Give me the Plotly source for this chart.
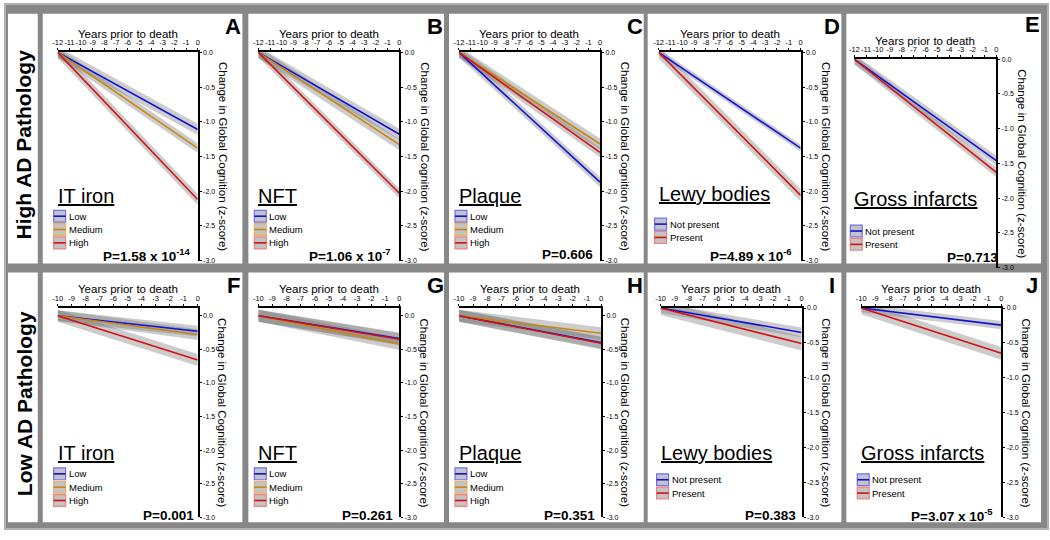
import plotly.graph_objects as go

W, H = 1050, 540

# ---------------- data ----------------
measures = ["IT iron", "NFT", "Plaque", "Lewy bodies", "Gross infarcts"]
groups3 = ["Low", "Medium", "High"]
groups2 = ["Not present", "Present"]
letters_high = ["A", "B", "C", "D", "E"]
letters_low = ["F", "G", "H", "I", "J"]
row_labels = ["High AD Pathology", "Low AD Pathology"]

high_start_year = -12
low_start_year = -10

# change in global cognition (z-score) at death (year 0), per group
high_end_change = [[-1.11, -1.38, -2.12],
                   [-1.18, -1.33, -2.03],
                   [-1.87, -1.32, -1.44],
                   [-1.38, -2.06],
                   [-1.46, -1.63]]
low_end_change = [[-0.23, -0.28, -0.66],
                  [-0.34, -0.42, -0.35],
                  [-0.40, -0.26, -0.41],
                  [-0.35, -0.51],
                  [-0.245, -0.65]]
# half width of the confidence band
high_ci = [[0.08, 0.07, 0.08], [0.08, 0.08, 0.07], [0.07, 0.08, 0.07], [0.05, 0.09], [0.07, 0.07]]
low_ci = [[0.08, 0.08, 0.09], [0.09, 0.09, 0.09], [0.09, 0.09, 0.09], [0.07, 0.10], [0.06, 0.09]]

high_p = ["P=1.58 x 10<sup>-14</sup>", "P=1.06 x 10<sup>-7</sup>", "P=0.606",
          "P=4.89 x 10<sup>-6</sup>", "P=0.713"]
low_p = ["P=0.001", "P=0.261", "P=0.351", "P=0.383", "P=3.07 x 10<sup>-5</sup>"]

x_ticks_high = list(range(-12, 1))
x_ticks_low = list(range(-10, 1))
x_ticklabels_high = [str(v) for v in x_ticks_high]
x_ticklabels_low = [str(v) for v in x_ticks_low]
y_ticks = [0.0, -0.5, -1.0, -1.5, -2.0, -2.5, -3.0]
y_ticklabels = ["0.0", "-0.5", "-1.0", "-1.5", "-2.0", "-2.5", "-3.0"]
low_y_top = [0.115, 0.115, 0.115, 0.0, 0.0]

x_title = "Years prior to death"
y_title = "Change in Global Cognition (z-score)"

# ---------------- styling / layout geometry (pixels) ----------------
FONT = "Liberation Sans, Arial, sans-serif"
BLUE, ORANGE, RED = "#1010d8", "#c8860e", "#d61010"
BOX_EDGE = {BLUE: "#7070f0", ORANGE: "#eab060", RED: "#f08080"}
colors3 = [BLUE, ORANGE, RED]
colors2 = [BLUE, RED]
BAND = "rgba(120,120,120,0.38)"
FRAME = "#878787"

col_white = [(38, 239), (245, 442), (447, 643), (647, 842), (847, 1043)]
row_white = [(10, 263), (272, 525)]
axes_x = [[(53, 194), (255, 397), (457, 599), (658, 801), (855, 998)],
          [(53, 194), (255, 397), (457, 600), (660, 802), (862, 1003)]]
axes_y = [[(49, 260)] * 4 + [(56, 267)], [(308, 520)] * 5]
title_y = [[195, 195, 195, 193, 198], [455, 455, 455, 455, 455]]
legend_y0 = [[215, 215, 215, 223, 230], [476, 476, 476, 482, 482]]
p_y = [[254, 254, 254, 254, 257], [518, 518, 518, 518, 518]]
p_right = [[189, 391, 594, 794, 1002], [192, 393, 596, 798, 997]]


def X(px):
    return px / W


def Y(py):
    return 1 - py / H


fig = go.Figure()
shapes = []
ann = []

# frame
shapes.append(dict(type="rect", xref="paper", yref="paper", x0=X(0), x1=X(1050), y0=Y(0), y1=Y(532),
                   fillcolor=FRAME, line=dict(color="#b0b0b0", width=2), layer="below"))
for r, (ry0, ry1) in enumerate(row_white):
    shapes.append(dict(type="rect", xref="paper", yref="paper", x0=X(3), x1=X(33), y0=Y(ry1), y1=Y(ry0),
                       fillcolor="white", line=dict(width=0), layer="below"))
    ann.append(dict(text=f"<b>{row_labels[r]}</b>", x=X(19), y=Y((ry0 + ry1) / 2 + 6), xref="paper",
                    yref="paper", textangle=-90, showarrow=False,
                    font=dict(family=FONT, size=21, color="black"), xanchor="center", yanchor="middle"))
    for cx0, cx1 in col_white:
        shapes.append(dict(type="rect", xref="paper", yref="paper", x0=X(cx0), x1=X(cx1), y0=Y(ry1), y1=Y(ry0),
                           fillcolor="white", line=dict(width=0), layer="below"))

layout_axes = {}
k = 0
for r in range(2):
    ends_all = high_end_change if r == 0 else low_end_change
    ci_all = high_ci if r == 0 else low_ci
    start = high_start_year if r == 0 else low_start_year
    ticks = x_ticks_high if r == 0 else x_ticks_low
    tick_text = x_ticklabels_high if r == 0 else x_ticklabels_low
    pvals = high_p if r == 0 else low_p
    letters = letters_high if r == 0 else letters_low
    for c in range(5):
        k += 1
        xa = "x" if k == 1 else f"x{k}"
        ya = "y" if k == 1 else f"y{k}"
        grp = groups3 if c < 3 else groups2
        cols = colors3 if c < 3 else colors2
        ends = ends_all[c]
        cis = ci_all[c]
        # bands
        for g in range(len(grp)):
            e, w = ends[g], cis[g]
            fig.add_trace(go.Scatter(x=[start, 0, 0, start, start], y=[w, e + w, e - w, -w, w],
                                     fill="toself", fillcolor=BAND, mode="lines", line=dict(width=0),
                                     hoverinfo="skip", showlegend=False, xaxis=xa, yaxis=ya))
        # lines
        for g in range(len(grp)):
            fig.add_trace(go.Scatter(x=[start, 0], y=[0, ends[g]], mode="lines",
                                     line=dict(color=cols[g], width=1.6), name=f"{measures[c]}: {grp[g]}",
                                     showlegend=False, xaxis=xa, yaxis=ya))
        ax0, ax1 = axes_x[r][c]
        ay0, ay1 = axes_y[r][c]
        ytop = 0.0 if r == 0 else low_y_top[c]
        layout_axes["xaxis" if k == 1 else f"xaxis{k}"] = dict(
            domain=[X(ax0), X(ax1)], range=[start, 0], side="top", anchor=ya,
            showline=True, linecolor="black", linewidth=2, ticks="outside", ticklen=2,
            tickwidth=1, tickcolor="black", tickvals=ticks, ticktext=tick_text, tickangle=0,
            tickfont=dict(family=FONT, size=7.5, color="black"), showgrid=False, zeroline=False,
            fixedrange=True)
        layout_axes["yaxis" if k == 1 else f"yaxis{k}"] = dict(
            domain=[Y(ay1), Y(ay0)], range=[-3, ytop], side="right", anchor=xa,
            showline=True, linecolor="black", linewidth=2, ticks="outside", ticklen=2,
            tickwidth=1, tickcolor="black", tickvals=y_ticks, ticktext=y_ticklabels,
            tickfont=dict(family=FONT, size=7, color="black"), showgrid=False, zeroline=False,
            fixedrange=True)
        # axis titles
        ann.append(dict(text=x_title, x=X((ax0 + ax1) / 2), y=Y(ay0 - 19), xref="paper", yref="paper",
                        showarrow=False, font=dict(family=FONT, size=11.5, color="black"),
                        xanchor="center", yanchor="middle"))
        ann.append(dict(text=y_title, x=X(ax1 + 25), y=Y((ay0 + ay1) / 2), xref="paper", yref="paper",
                        textangle=90, showarrow=False, font=dict(family=FONT, size=11.5, color="black"),
                        xanchor="center", yanchor="middle"))
        # panel letter
        pr = col_white[c][1]
        ann.append(dict(text=f"<b>{letters[c]}</b>", x=X(pr - 9), y=Y((21 if c == 4 else 23) if r == 0 else 285),
                        xref="paper", yref="paper", showarrow=False,
                        font=dict(family=FONT, size=22, color="black"), xanchor="center", yanchor="middle"))
        # measure title
        ann.append(dict(text=f"<u>{measures[c]}</u>", x=X(ax0 - 2), y=Y(title_y[r][c]), xref="paper",
                        yref="paper", showarrow=False, font=dict(family=FONT, size=20, color="black"),
                        xanchor="left", yanchor="middle"))
        # legend
        lx = max(ax0 - 4, col_white[c][0] - 1)
        for g in range(len(grp)):
            cy = legend_y0[r][c] + 13.5 * g
            shapes.append(dict(type="rect", xref="paper", yref="paper", x0=X(lx), x1=X(lx + 12),
                               y0=Y(cy + 6), y1=Y(cy - 6), fillcolor="#c4c4c4",
                               line=dict(color=BOX_EDGE[cols[g]], width=1.2)))
            shapes.append(dict(type="line", xref="paper", yref="paper", x0=X(lx), x1=X(lx + 12),
                               y0=Y(cy), y1=Y(cy), line=dict(color=cols[g], width=1.6)))
            ann.append(dict(text=grp[g], x=X(lx + 13), y=Y(cy), xref="paper", yref="paper",
                            showarrow=False, font=dict(family=FONT, size=9.5, color="black"),
                            xanchor="left", yanchor="middle"))
        # p value
        ann.append(dict(text=f"<b>{pvals[c]}</b>", x=X(p_right[r][c]), y=Y(p_y[r][c]), xref="paper",
                        yref="paper", showarrow=False, font=dict(family=FONT, size=13.5, color="black"),
                        xanchor="right", yanchor="middle"))

fig.update_layout(width=W, height=H, margin=dict(l=0, r=0, t=0, b=0), paper_bgcolor="white",
                  plot_bgcolor="rgba(0,0,0,0)", showlegend=False, shapes=shapes, annotations=ann,
                  font=dict(family=FONT, color="black"))
fig.update_layout(**layout_axes)

fig.write_html("out.html", config={"displayModeBar": False},
               post_script="document.body.style.margin='0';document.body.style.padding='0';"
                           "document.body.style.overflow='hidden';")
